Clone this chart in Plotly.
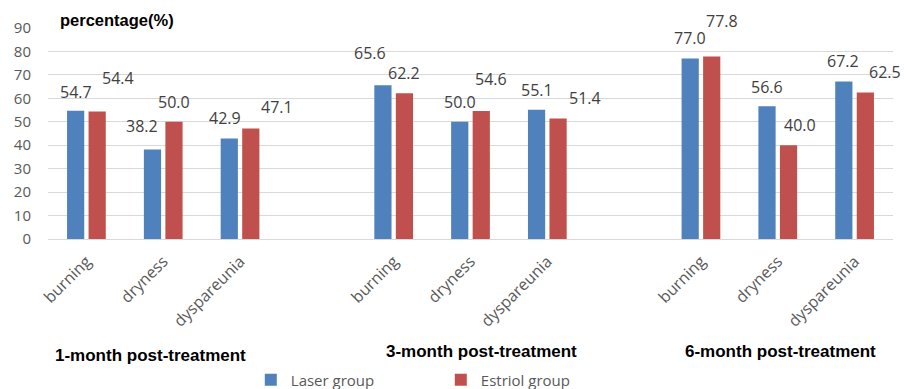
import plotly.graph_objects as go

periods = ["1-month post-treatment", "3-month post-treatment", "6-month post-treatment"]
symptoms = ["burning", "dryness", "dyspareunia"]
laser = [54.7, 38.2, 42.9, 65.6, 50.0, 55.1, 77.0, 56.6, 67.2]
estriol = [54.4, 50.0, 47.1, 62.2, 54.6, 51.4, 77.8, 40.0, 62.5]
y_ticks = [0, 10, 20, 30, 40, 50, 60, 70, 80, 90]

# label placement tweaks (pixels: dx from bar centre, dy above bar top)
laser_dx = [0, -10, -4, -13, 0, 0, 0, 0, -1]
laser_dy = [19, 23, 20, 32, 20, 20, 20, 19, 20]
estriol_dx = [21, 0, 26, 0, 10, 27, 10, 11, 20]
estriol_dy = [33, 20, 22, 20, 32, 21, 36, 20, 20]

BLUE = "#4F81BD"
RED = "#C0504D"
GRAY = "#595959"
FONT = "Open Sans"

# x slots: 3 symptoms per period, one empty slot between periods
xpos = [p * 4 + s for p in range(len(periods)) for s in range(len(symptoms))]
xtext = [symptoms[s] for p in range(len(periods)) for s in range(len(symptoms))]

fig = go.Figure()
fig.add_trace(go.Bar(x=xpos, y=laser, name="Laser group", marker_color=BLUE,
                     marker_line_width=0))
fig.add_trace(go.Bar(x=xpos, y=estriol, name="Estriol group", marker_color=RED,
                     marker_line_width=0))

ann = []
BAR_OFF = 10.75
for i, x in enumerate(xpos):
    ann.append(dict(x=x, y=laser[i], text=f"{laser[i]:.1f}", showarrow=False,
                    xref="x", yref="y", xanchor="center", yanchor="middle",
                    xshift=-BAR_OFF + laser_dx[i], yshift=laser_dy[i],
                    font=dict(family=FONT, size=16, color="#404040")))
    ann.append(dict(x=x, y=estriol[i], text=f"{estriol[i]:.1f}", showarrow=False,
                    xref="x", yref="y", xanchor="center", yanchor="middle",
                    xshift=BAR_OFF + estriol_dx[i], yshift=estriol_dy[i],
                    font=dict(family=FONT, size=16, color="#404040")))

# period labels
period_shift = [-13, 11, 3]
period_y = [-0.55, -0.531, -0.531]
for p, name in enumerate(periods):
    ann.append(dict(x=p * 4 + 1, y=period_y[p], xref="x", yref="paper",
                    text=f"<b>{name}</b>", showarrow=False, xanchor="center",
                    yanchor="middle", xshift=period_shift[p],
                    font=dict(family="Liberation Sans", size=17, color="black")))

ann.append(dict(x=0.012, y=1.038, xref="paper", yref="paper",
                text="<b>percentage(%)</b>", showarrow=False, xanchor="left",
                yanchor="middle",
                font=dict(family="Liberation Sans", size=16.5, color="black")))

fig.update_layout(
    width=907, height=389,
    margin=dict(l=47.5, r=13.5, t=28, b=150, autoexpand=False),
    paper_bgcolor="white", plot_bgcolor="white",
    barmode="group", bargap=0.44, bargroupgap=0.2,
    font=dict(family=FONT, size=15, color=GRAY),
    annotations=ann,
    showlegend=True,
    hovermode=False,
    legend=dict(orientation="h", x=0.24, y=-0.668, xanchor="left", yanchor="middle",
                font=dict(family=FONT, size=15, color=GRAY),
                entrywidth=145, entrywidthmode="pixels",
                bgcolor="rgba(0,0,0,0)"),
    xaxis=dict(range=[-0.5, 10.5], tickmode="array", tickvals=xpos, ticktext=xtext,
               tickangle=-45, showgrid=False, showline=False, zeroline=False,
               automargin=False, ticklabelstandoff=9,
               tickfont=dict(family=FONT, size=16, color=GRAY)),
    yaxis=dict(range=[0, 90], tickmode="array", tickvals=y_ticks,
               showgrid=True, gridcolor="#D9D9D9", gridwidth=1,
               zeroline=True, zerolinecolor="#D9D9D9", zerolinewidth=1,
               showline=False, ticklabelstandoff=16, automargin=False,
               tickfont=dict(family=FONT, size=15, color=GRAY)),
)

fig.write_html("out.html", config={"displayModeBar": False},
               post_script="document.body.style.margin='0';document.body.style.overflow='hidden';")
